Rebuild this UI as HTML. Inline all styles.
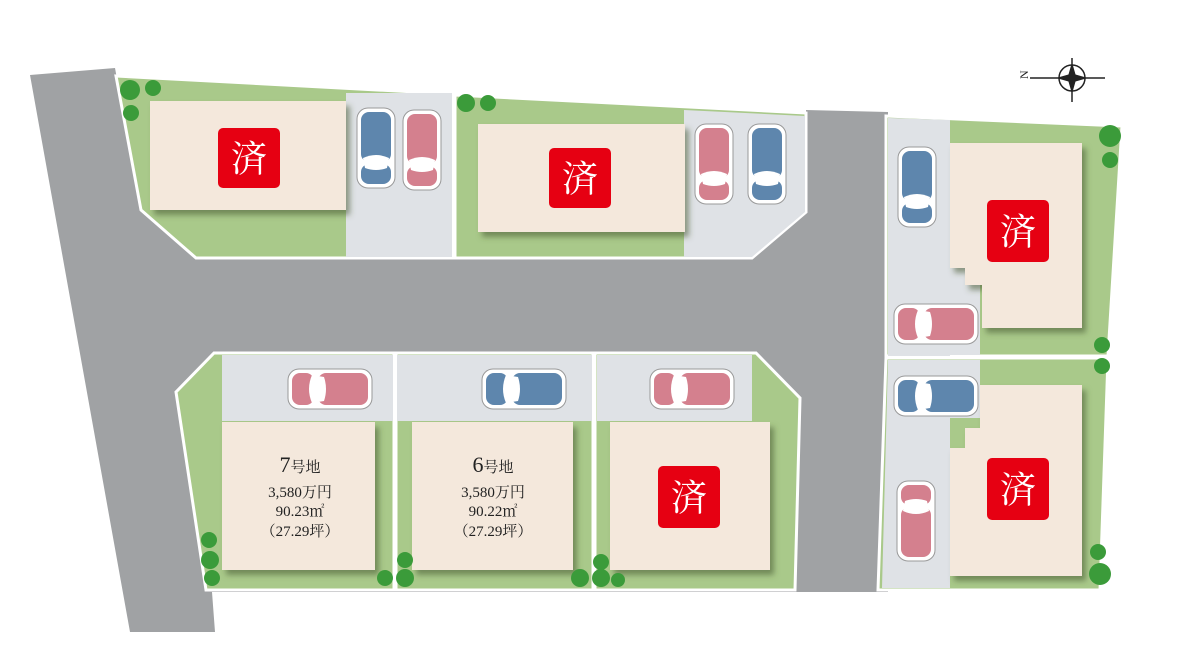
<!DOCTYPE html>
<html><head><meta charset="utf-8"><style>
html,body{margin:0;padding:0;background:#fff;}
svg{display:block;}
.t{font-family:"Liberation Serif","Noto Serif CJK SC",serif;fill:#222;text-anchor:middle;}
.s{font-family:"Liberation Serif","Noto Serif CJK SC",serif;fill:#fff;text-anchor:middle;font-size:36px;}
</style></head><body>
<svg width="1200" height="658" viewBox="0 0 1200 658" xmlns="http://www.w3.org/2000/svg">
<defs>
<filter id="sh" x="-10%" y="-10%" width="130%" height="130%"><feDropShadow dx="4" dy="5" stdDeviation="3" flood-color="#445533" flood-opacity="0.55"/></filter>
<g id="cv"><rect x="0" y="0" width="38" height="80" rx="11" fill="#fff" stroke="#999" stroke-width="1"/><rect x="4" y="4" width="30" height="50" rx="8" fill="currentColor"/><rect x="4" y="56" width="30" height="20" rx="8" fill="currentColor"/><path d="M6 50 Q19 44 32 50 L30 60 Q19 64 8 60Z" fill="#fff"/></g>
<g id="ch"><rect x="0" y="0" width="84" height="40" rx="11" fill="#fff" stroke="#999" stroke-width="1"/><rect x="30" y="4" width="50" height="32" rx="8" fill="currentColor"/><rect x="4" y="4" width="22" height="32" rx="8" fill="currentColor"/><path d="M24 6 Q18 20 24 34 L36 32 Q40 20 36 8Z" fill="#fff"/></g>
</defs>
<!-- road -->
<polygon points="30,75 115,68 141,210 196,258 752,258 806,212 806,110 888,112 888,592 212,592 215,632 130,632" fill="#a0a2a4"/>
<!-- lot1 -->
<polygon points="116,76 453,94 453,258 196,258 141,210" fill="#a9c98a" stroke="#fff" stroke-width="3"/>
<rect x="346" y="93" width="106" height="164" fill="#dfe2e6"/>
<!-- lot2 -->
<polygon points="455,95 806,113 806,212 752,258 455,258" fill="#a9c98a" stroke="#fff" stroke-width="3"/>
<polygon points="684,110 805,116 805,212 752,257 684,257" fill="#dfe2e6"/>
<rect x="150" y="101" width="196" height="109" fill="#f4e8dc" filter="url(#sh)"/>
<rect x="478" y="124" width="207" height="108" fill="#f4e8dc" filter="url(#sh)"/>
<rect x="218" y="128" width="62" height="60" rx="5" fill="#e60012"/><text class="s" x="249" y="171">済</text>
<rect x="549" y="148" width="62" height="60" rx="5" fill="#e60012"/><text class="s" x="580" y="191">済</text>
<use href="#cv" x="357" y="108" style="color:#5e86ad"/>
<use href="#cv" x="403" y="110" style="color:#d4808e"/>
<use href="#cv" x="695" y="124" style="color:#d4808e"/>
<use href="#cv" x="748" y="124" style="color:#5e86ad"/>
<!-- right lots -->
<polygon points="886,116 1122,126 1108,356 886,356" fill="#a9c98a" stroke="#fff" stroke-width="3"/>
<polygon points="886,358 1108,358 1100,590 878,590" fill="#a9c98a" stroke="#fff" stroke-width="3"/>
<polygon points="888,118 950,120 950,356 888,356" fill="#dfe2e6"/>
<rect x="950" y="260" width="30" height="95" fill="#dfe2e6"/>
<polygon points="888,360 980,360 980,418 950,418 950,588 882,588" fill="#dfe2e6"/>
<path d="M950 143 H1082 V328 H982 V285 H965 V268 H950Z" fill="#f4e8dc" filter="url(#sh)"/>
<path d="M980 385 H1082 V576 H950 V448 H965 V428 H980Z" fill="#f4e8dc" filter="url(#sh)"/>
<rect x="987" y="200" width="62" height="62" rx="5" fill="#e60012"/><text class="s" x="1018" y="244">済</text>
<rect x="987" y="458" width="62" height="62" rx="5" fill="#e60012"/><text class="s" x="1018" y="502">済</text>
<use href="#cv" x="898" y="147" style="color:#5e86ad"/>
<use href="#ch" x="894" y="304" style="color:#d4808e"/>
<use href="#ch" x="894" y="376" style="color:#5e86ad"/>
<use href="#cv" x="897" y="481" style="color:#d4808e" transform="rotate(180 916 521)"/>
<!-- bottom lots -->
<polygon points="176,392 214,353 394,353 394,590 206,590" fill="#a9c98a" stroke="#fff" stroke-width="3"/>
<rect x="396" y="353" width="197" height="237" fill="#a9c98a" stroke="#fff" stroke-width="3"/>
<polygon points="595,353 756,353 800,398 795,590 595,590" fill="#a9c98a" stroke="#fff" stroke-width="3"/>
<rect x="222" y="355" width="171" height="66" fill="#dfe2e6"/>
<rect x="397" y="355" width="195" height="66" fill="#dfe2e6"/>
<rect x="597" y="355" width="155" height="66" fill="#dfe2e6"/>
<rect x="222" y="422" width="153" height="148" fill="#f4e8dc" filter="url(#sh)"/>
<rect x="412" y="422" width="161" height="148" fill="#f4e8dc" filter="url(#sh)"/>
<rect x="610" y="422" width="160" height="148" fill="#f4e8dc" filter="url(#sh)"/>
<rect x="658" y="466" width="62" height="62" rx="5" fill="#e60012"/><text class="s" x="689" y="510">済</text>
<use href="#ch" x="288" y="369" style="color:#d4808e"/>
<use href="#ch" x="482" y="369" style="color:#5e86ad"/>
<use href="#ch" x="650" y="369" style="color:#d4808e"/>
<text class="t" x="300" y="472" font-size="22">7<tspan font-size="15">号地</tspan></text>
<text class="t" x="300" y="497" font-size="15">3,580万円</text>
<text class="t" x="300" y="516" font-size="15">90.23㎡</text>
<text class="t" x="300" y="536" font-size="15">（27.29坪）</text>
<text class="t" x="493" y="472" font-size="22">6<tspan font-size="15">号地</tspan></text>
<text class="t" x="493" y="497" font-size="15">3,580万円</text>
<text class="t" x="493" y="516" font-size="15">90.22㎡</text>
<text class="t" x="493" y="536" font-size="15">（27.29坪）</text>
<!-- trees -->
<g fill="#3b9b3a">
<circle cx="130" cy="90" r="10"/><circle cx="153" cy="88" r="8"/><circle cx="131" cy="113" r="8"/>
<circle cx="466" cy="103" r="9"/><circle cx="488" cy="103" r="8"/>
<circle cx="1110" cy="136" r="11"/><circle cx="1110" cy="160" r="8"/>
<circle cx="1102" cy="345" r="8"/><circle cx="1102" cy="366" r="8"/>
<circle cx="1098" cy="552" r="8"/><circle cx="1100" cy="574" r="11"/>
<circle cx="209" cy="540" r="8"/><circle cx="210" cy="560" r="9"/><circle cx="212" cy="578" r="8"/>
<circle cx="385" cy="578" r="8"/><circle cx="405" cy="560" r="8"/><circle cx="405" cy="578" r="9"/>
<circle cx="580" cy="578" r="9"/><circle cx="601" cy="562" r="8"/><circle cx="601" cy="578" r="9"/><circle cx="618" cy="580" r="7"/>
</g>
<!-- compass -->
<g stroke="#222" fill="none">
<line x1="1030" y1="78" x2="1105" y2="78" stroke-width="1.5"/>
<line x1="1072" y1="58" x2="1072" y2="102" stroke-width="1.5"/>
<circle cx="1072" cy="78" r="13" stroke-width="1.5"/>
<polygon points="1072,64 1076,78 1072,92 1068,78" fill="#222"/>
<polygon points="1058,78 1072,74 1086,78 1072,82" fill="#222"/>
</g>
<text x="1024" y="83" font-family="Liberation Serif,serif" font-size="12" fill="#222" transform="rotate(-90 1024 79)">N</text>
</svg>
</body></html>
